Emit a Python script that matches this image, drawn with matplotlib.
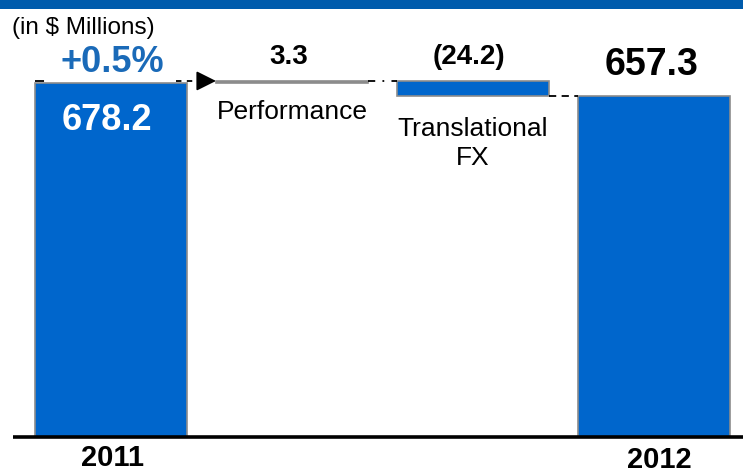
import matplotlib.pyplot as plt
from matplotlib.patches import Rectangle

plt.rcParams["font.family"] = ["Liberation Sans", "DejaVu Sans"]

# waterfall data (in $ Millions)
start_label = "2011"
end_label = "2012"
start_value = 678.2
end_value = 657.3
step_names = ["Performance", "Translational\nFX"]
step_values = [3.3, -24.2]
step_labels = ["3.3", "(24.2)"]
growth_label = "+0.5%"

BLUE = "#0066CC"
HEADER_BLUE = "#005BAC"
GREY = "#8C8C8C"

fig = plt.figure(figsize=(7.43, 4.73), dpi=100)
ax = fig.add_axes([0, 0, 1, 1])
ax.set_axis_off()

# broken value scale: 0.62 px per $M, 2011 top at 83 px from the top
px = 0.62
ax.set_xlim(-111 / 181, (743 - 111) / 181)
ax.set_ylim(start_value - (473 - 83) / px, start_value + 83 / px)
base = start_value - (437 - 83) / px

width = 0.84
x_pos = list(range(len(step_values) + 2))

# start and end bars
ax.bar(x_pos[0], start_value - base, bottom=base, width=width,
       color=BLUE, edgecolor=GREY, linewidth=1.2)
ax.bar(x_pos[-1], end_value - base, bottom=base, width=width,
       color=BLUE, edgecolor=GREY, linewidth=1.2)

# floating steps
level = start_value
tops, bottoms = [], []
for i, v in enumerate(step_values):
    lo, hi = min(level, level + v), max(level, level + v)
    fc = GREY if v > 0 else BLUE
    ax.bar(x_pos[i + 1], hi - lo, bottom=lo, width=width,
           color=fc, edgecolor=GREY, linewidth=1.2)
    tops.append(hi)
    bottoms.append(lo)
    level += v

# connectors
half = width / 2
ax.plot([x_pos[0] - half, x_pos[0] - half + 0.07], [tops[0], tops[0]],
        color="black", lw=1.3, linestyle=(0, (5, 3)))
ax.plot([x_pos[0] + half - 0.06, x_pos[1] - half - 0.06], [tops[0], tops[0]],
        color="black", lw=1.3, linestyle=(0, (3, 3)))
ax.annotate("", xy=(x_pos[1] - half, tops[0]), xytext=(x_pos[1] - half - 0.08, tops[0]),
            arrowprops=dict(arrowstyle="-|>", color="black", lw=1.3,
                            mutation_scale=30, shrinkA=0, shrinkB=0))
ax.plot([x_pos[1] + half, x_pos[2] - half], [tops[0], tops[0]],
        color="black", lw=1.3, linestyle=(0, (4, 4, 1, 4)))
ax.plot([x_pos[2] + half, x_pos[3] - half], [end_value, end_value],
        color="black", lw=1.3, linestyle=(0, (4, 3)))

# baseline
ax.plot([13 / 181 - 111 / 181, (743 - 111) / 181], [base, base],
        color="black", lw=2.6, solid_capstyle="butt")

# labels
ax.annotate(growth_label, (x_pos[0] + 0.01, start_value), xytext=(0, 15),
            textcoords="offset points", ha="center", va="center",
            fontsize=26, fontweight="bold", color="#1A6AB8")
ax.annotate(f"{start_value:.1f}", (x_pos[0] - 0.02, start_value), xytext=(0, -27),
            textcoords="offset points", ha="center", va="center",
            fontsize=26, fontweight="bold", color="white")
ax.annotate(f"{end_value:.1f}", (x_pos[-1], end_value), xytext=(-2, 22),
            textcoords="offset points", ha="center", va="center",
            fontsize=27, fontweight="bold", color="black")

for i, (name, lab) in enumerate(zip(step_names, step_labels)):
    ax.annotate(lab, (x_pos[i + 1] - 0.02, tops[i]), xytext=(0, 17.5),
                textcoords="offset points", ha="center", va="center",
                fontsize=20, fontweight="bold", color="black")
    ax.annotate(name, (x_pos[i + 1], bottoms[i]), xytext=(0, -12 if i == 0 else -15),
                textcoords="offset points", ha="center", va="top",
                fontsize=19, color="black", linespacing=1.25)

ax.annotate(start_label, (x_pos[0], base), xytext=(1, -15),
            textcoords="offset points", ha="center", va="center",
            fontsize=21, fontweight="bold")
ax.annotate(end_label, (x_pos[-1], base), xytext=(4, -16.5),
            textcoords="offset points", ha="center", va="center",
            fontsize=21, fontweight="bold")

fig.text(12 / 743, 1 - 28 / 473, "(in $ Millions)", ha="left", va="center",
         fontsize=17.5)

# header strip
fig.add_artist(Rectangle((0, 1 - 9 / 473), 1, 9 / 473, transform=fig.transFigure,
                         facecolor=HEADER_BLUE, edgecolor="none"))

fig.savefig("out.png", dpi=100)
